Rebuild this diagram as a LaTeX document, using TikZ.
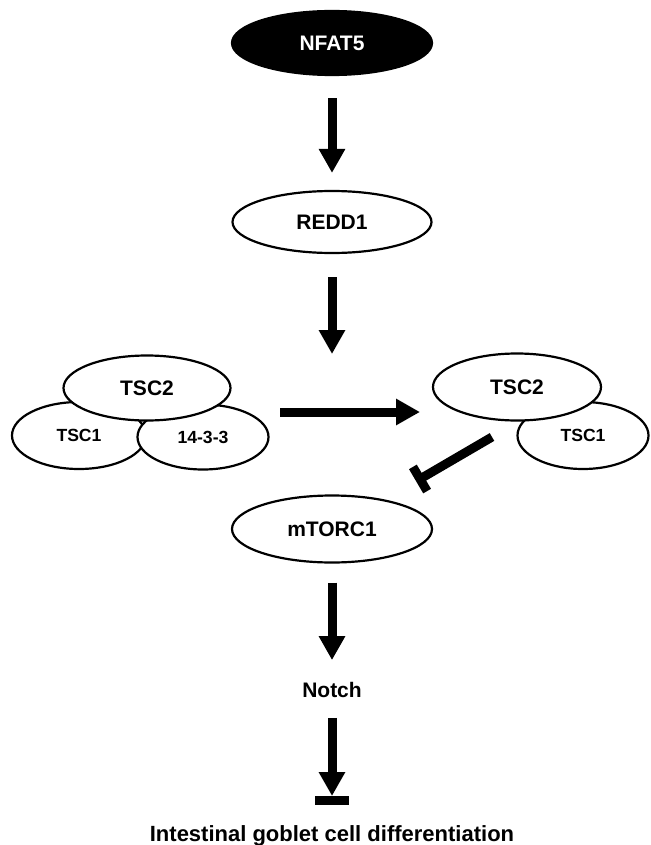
\documentclass[tikz,border=0pt]{standalone}
\usepackage{fontspec}
\setmainfont{Liberation Sans}
\usetikzlibrary{shapes.geometric,arrows.meta}

\tikzset{
  prot/.style={ellipse, draw=black, line width=2.2pt, fill=white, inner sep=0pt,
               font=\fontsize{21}{24}\selectfont\bfseries},
  sub/.style={prot, font=\fontsize{17.6}{20}\selectfont\bfseries},
  lbl/.style={inner sep=0pt, font=\fontsize{21}{24}\selectfont\bfseries},
  act/.style={line width=9pt, -{Triangle[length=24pt,width=25pt]}},
  inh/.style={line width=9pt},
}

\begin{document}
\begin{tikzpicture}[x=1pt, y=-1pt]
\useasboundingbox (0,0) rectangle (650,845);

% upstream regulators
\node[prot, fill=black, text=white, minimum width=200pt, minimum height=64pt] (nfat) at (332,43) {NFAT5};
\node[prot, minimum width=199pt, minimum height=62pt] (redd) at (332,222) {REDD1};

% TSC1/TSC2 complex held by 14-3-3
\node[sub, minimum width=134pt, minimum height=67pt] (ltsca) at (79,435.5) {TSC1};
\node[sub, minimum width=131pt, minimum height=65pt] (lfourteen) at (203,437) {14-3-3};
\node[prot, minimum width=167pt, minimum height=65pt] (ltscb) at (147,388) {TSC2};

% free TSC1/TSC2 complex
\node[sub, minimum width=131pt, minimum height=67pt] (rtsca) at (583,435.5) {TSC1};
\node[prot, minimum width=168pt, minimum height=67pt] (rtscb) at (517,387) {TSC2};

% downstream
\node[prot, minimum width=200pt, minimum height=67pt] (mtorc) at (332,529) {mTORC1};
\node[lbl] (notch) at (332,690) {Notch};
\node[lbl, font=\fontsize{22}{25}\selectfont\bfseries, anchor=base] (goblet) at (332,841) {Intestinal goblet cell differentiation};

% connector end points
\coordinate (redddown) at (332,354);
\coordinate (hstart) at (280,412);
\coordinate (hend) at (420,412);
\coordinate (inhstart) at (492,437);
\coordinate (inhend) at (420,479);
\coordinate (inhbara) at (427.1,491.1);
\coordinate (inhbarb) at (412.9,466.9);
\coordinate (barc) at (332,800.5);
\coordinate (bara) at (315,800.5);
\coordinate (barb) at (349,800.5);

% connectors
\draw[act, shorten <=22pt, shorten >=17pt] (nfat) -- (redd);
\draw[act, shorten <=23pt] (redd) -- (redddown);
\draw[act] (hstart) -- (hend);
\draw[inh] (inhstart) -- (inhend);
\draw[inh] (inhbara) -- (inhbarb);
\draw[act, shorten <=19pt, shorten >=22pt] (mtorc) -- (notch);
\draw[act, shorten <=20pt, shorten >=4.5pt] (notch) -- (barc);
\draw[inh] (bara) -- (barb);
\end{tikzpicture}
\end{document}
